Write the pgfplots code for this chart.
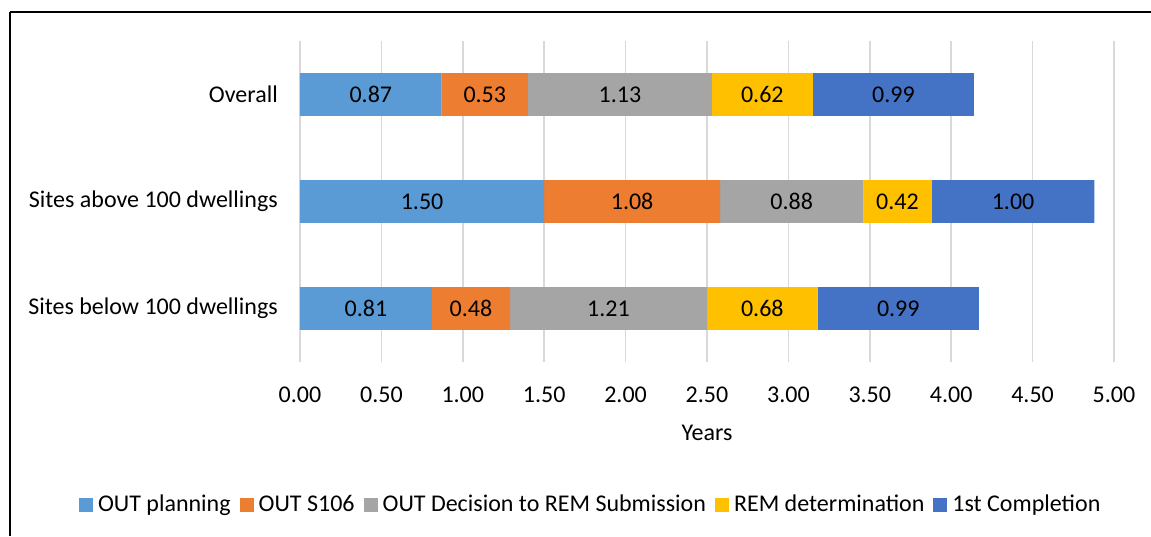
\documentclass[border=0pt]{standalone}
\usepackage{pgfplots}
\pgfplotsset{compat=1.18}
\usepackage{fontspec}
\setmainfont{Carlito}
\definecolor{c1}{HTML}{5B9BD5}
\definecolor{c2}{HTML}{ED7D31}
\definecolor{c3}{HTML}{A5A5A5}
\definecolor{c4}{HTML}{FFC000}
\definecolor{c5}{HTML}{4472C4}
\definecolor{gridc}{HTML}{D9D9D9}
\begin{document}
\fontsize{24}{28}\selectfont
\begin{tikzpicture}[x=1pt,y=1pt]
\path[use as bounding box] (0,0) rectangle (1151,536);
\draw[line width=2pt] (10,524) -- (1151,524);
\draw[line width=2pt] (10,524) -- (10,0);
\begin{axis}[
  at={(300pt,174pt)}, anchor=south west,
  width=814pt, height=321pt, scale only axis,
  xbar stacked, bar width=0.4,
  xmin=0, xmax=5, ymin=-0.5, ymax=2.5,
  xtick={0,0.5,1,1.5,2,2.5,3,3.5,4,4.5,5},
  ytick={0,1,2},
  yticklabels={Sites below 100 dwellings, Sites above 100 dwellings, Overall},
  axis line style={draw=none},
  major tick length=0pt,
  xmajorgrids, ymajorgrids=false,
  grid style={gridc, line width=1.5pt},
  /pgf/number format/assume math mode=true,
  xticklabel={\pgfmathprintnumber[fixed,fixed zerofill,precision=2]{\tick}},
  xticklabel shift=17pt,
  yticklabel shift=14pt,
  xlabel={Years},
  xlabel style={at={(rel axis cs:0.5,0)}, anchor=center, yshift=-71pt},
  point meta=explicit,
  nodes near coords={\pgfmathprintnumber[fixed,fixed zerofill,precision=2]{\pgfplotspointmeta}},
  every node near coord/.append style={anchor=center, text=black},
  legend columns=5,
  legend style={at={(0.3590,-0.4455)}, anchor=center, draw=none, fill=none,
    /tikz/every even column/.append style={column sep=4pt},
    nodes={inner xsep=5pt}},
  legend image code/.code={\fill[#1] (0pt,-7pt) rectangle (14pt,7pt);},
]
\addplot[fill=c1, draw=none] coordinates {(0.81,0) [0.81] (1.50,1) [1.50] (0.87,2) [0.87]};
\addplot[fill=c2, draw=none] coordinates {(0.48,0) [0.48] (1.08,1) [1.08] (0.53,2) [0.53]};
\addplot[fill=c3, draw=none] coordinates {(1.21,0) [1.21] (0.88,1) [0.88] (1.13,2) [1.13]};
\addplot[fill=c4, draw=none] coordinates {(0.68,0) [0.68] (0.42,1) [0.42] (0.62,2) [0.62]};
\addplot[fill=c5, draw=none] coordinates {(0.99,0) [0.99] (1.00,1) [1.00] (0.99,2) [0.99]};
\legend{OUT planning, OUT S106, OUT Decision to REM Submission, REM determination, 1st Completion}
\end{axis}
\end{tikzpicture}
\end{document}
